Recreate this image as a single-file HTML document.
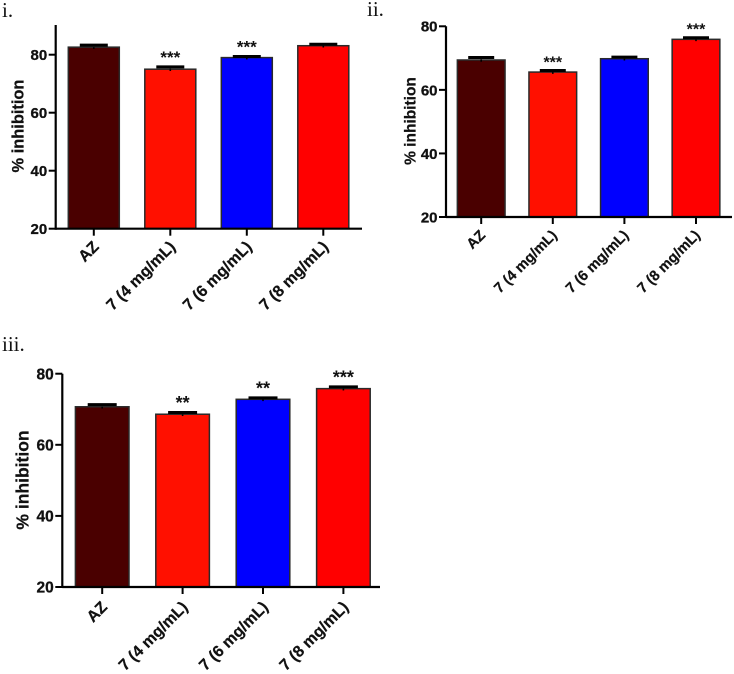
<!DOCTYPE html>
<html lang="en">
<head>
<meta charset="utf-8">
<title>% inhibition bar charts</title>
<style>
html,body{margin:0;padding:0;background:#fff;}
#figure{display:block;position:absolute;left:0;top:0;filter:blur(0.35px);}
text{font-family:"Liberation Sans",sans-serif;font-weight:bold;fill:#111;}
text.panel{font-family:"Liberation Serif",serif;font-weight:normal;font-size:21px;}
</style>
</head>
<body>
<svg id="figure" width="734" height="674" viewBox="0 0 734 674" xmlns="http://www.w3.org/2000/svg"></svg>
<script>
const categories = ["AZ", "7 (4 mg/mL)", "7 (6 mg/mL)", "7 (8 mg/mL)"];
const barColors = ["#4a0000", "#ff1000", "#0000ff", "#ff0000"];
const yTicks = [20, 40, 60, 80];

const valuesI = [82.6, 75.0, 79.0, 83.1];
const errorsI = [0.7, 0.8, 0.4, 0.5];
const starsI = ["", "***", "***", ""];

const valuesII = [69.4, 65.6, 69.8, 75.9];
const errorsII = [0.8, 0.5, 0.5, 0.5];
const starsII = ["", "***", "", "***"];

const valuesIII = [70.7, 68.6, 72.8, 75.8];
const errorsIII = [0.6, 0.5, 0.4, 0.5];
const starsIII = ["", "**", "**", "***"];

const svg = document.getElementById('figure');
const NS = 'http://www.w3.org/2000/svg';

function make(parent, tag, props, txt) {
  const el = document.createElementNS(NS, tag);
  for (const k in props) el.setAttribute(k, props[k]);
  if (txt !== undefined) el.textContent = txt;
  parent.appendChild(el);
  return el;
}

function drawChart(cfg, values, errors, stars) {
  const group = make(svg, 'g', {});
  
  

  const y = v => cfg.baseY + (cfg.y80 - cfg.baseY) * (v - 20) / 60;
  const x = i => cfg.firstX + cfg.stepX * i;

  const panel = make(group, 'text', {x: cfg.panelX, y: cfg.panelY, class: 'panel'}, cfg.id + '.');
  
  

  categories.forEach((cat, i) => {
    const v = values[i], e = errors[i], cx = x(i);

    const stem = make(group, 'line', {x1: cx, x2: cx, y1: y(v - e), y2: y(v + e), stroke: '#000', 'stroke-width': 1.6});
    
    

    const bar = make(group, 'rect', {
      x: cx - cfg.barW / 2, y: y(v), width: cfg.barW, height: cfg.baseY - y(v),
      fill: barColors[i], stroke: '#2a2a2a', 'stroke-width': 1.5
    });
    
    

    const lowStem = make(group, 'line', {x1: cx, x2: cx, y1: y(v), y2: y(v) + 1.8, stroke: '#000', 'stroke-width': 1.6});
    
    

    const cap = make(group, 'line', {
      x1: cx - cfg.capW / 2, x2: cx + cfg.capW / 2, y1: y(v + e), y2: y(v + e),
      stroke: '#000', 'stroke-width': 3
    });
    
    

    if (stars[i]) {
      const star = make(group, 'text', {
        x: cx, y: y(v + e) - cfg.starGap, 'text-anchor': 'middle', 'font-size': cfg.starSize
      }, stars[i]);
      
      
    }

    const tick = make(group, 'line', {x1: cx, x2: cx, y1: cfg.baseY, y2: cfg.baseY + 7, stroke: '#000', 'stroke-width': 2});
    
    

    const lx = cx + cfg.labelDx, ly = cfg.baseY + cfg.labelDy;
    const label = make(group, 'text', {
      x: lx, y: ly, 'text-anchor': 'end', 'font-size': cfg.labelSize,
      stroke: '#111', 'stroke-width': 0.25,
      transform: 'rotate(-45 ' + lx + ' ' + ly + ')'
    }, cat);
    
    
  });

  const yAxis = make(group, 'line', {x1: cfg.axisX, x2: cfg.axisX, y1: cfg.axisTop, y2: cfg.baseY + 1, stroke: '#000', 'stroke-width': 2.2});
  
  

  const xAxis = make(group, 'line', {x1: cfg.axisX, x2: cfg.axisRight, y1: cfg.baseY, y2: cfg.baseY, stroke: '#000', 'stroke-width': 2.2});
  
  

  yTicks.forEach(t => {
    const tick = make(group, 'line', {x1: cfg.axisX - 7, x2: cfg.axisX, y1: y(t), y2: y(t), stroke: '#000', 'stroke-width': 2});
    
    

    const label = make(group, 'text', {
      x: cfg.axisX - 8.5, y: y(t) + cfg.tickSize * 0.36, 'text-anchor': 'end', 'font-size': cfg.tickSize,
      stroke: '#111', 'stroke-width': 0.3
    }, t);
    
    
  });

  const tx = cfg.titleX, ty = cfg.titleY;
  const title = make(group, 'text', {
    x: tx, y: ty, 'text-anchor': 'middle', 'font-size': cfg.titleSize,
    stroke: '#111', 'stroke-width': 0.25,
    transform: 'rotate(-90 ' + tx + ' ' + ty + ')'
  }, '% inhibition');
  
  
}

drawChart({
  id: 'i', panelX: 2, panelY: 17,
  axisX: 55.7, axisTop: 25, axisRight: 362, baseY: 228.7, y80: 54.7,
  firstX: 93.8, stepX: 76.5, barW: 51, capW: 28,
  tickSize: 15, labelSize: 16, titleSize: 16.4,
  titleX: 23.5, titleY: 126, labelDx: 6, labelDy: 19,
  starGap: 4, starSize: 17
}, valuesI, errorsI, starsI);

drawChart({
  id: 'ii', panelX: 367, panelY: 16,
  axisX: 446, axisTop: 26.3, axisRight: 732, baseY: 217, y80: 26.3,
  firstX: 481.2, stepX: 71.6, barW: 47.7, capW: 26,
  tickSize: 15, labelSize: 14.6, titleSize: 15.5,
  titleX: 415.5, titleY: 121, labelDx: 5, labelDy: 19,
  starGap: 3, starSize: 16
}, valuesII, errorsII, starsII);

drawChart({
  id: 'iii', panelX: 2, panelY: 351,
  axisX: 62.3, axisTop: 373.7, axisRight: 380, baseY: 587, y80: 373.7,
  firstX: 102.2, stepX: 80.4, barW: 53.6, capW: 29,
  tickSize: 15.5, labelSize: 16, titleSize: 17.5,
  titleX: 28.5, titleY: 480, labelDx: 6, labelDy: 21,
  starGap: 3.3, starSize: 18
}, valuesIII, errorsIII, starsIII);
</script>
</body>
</html>
